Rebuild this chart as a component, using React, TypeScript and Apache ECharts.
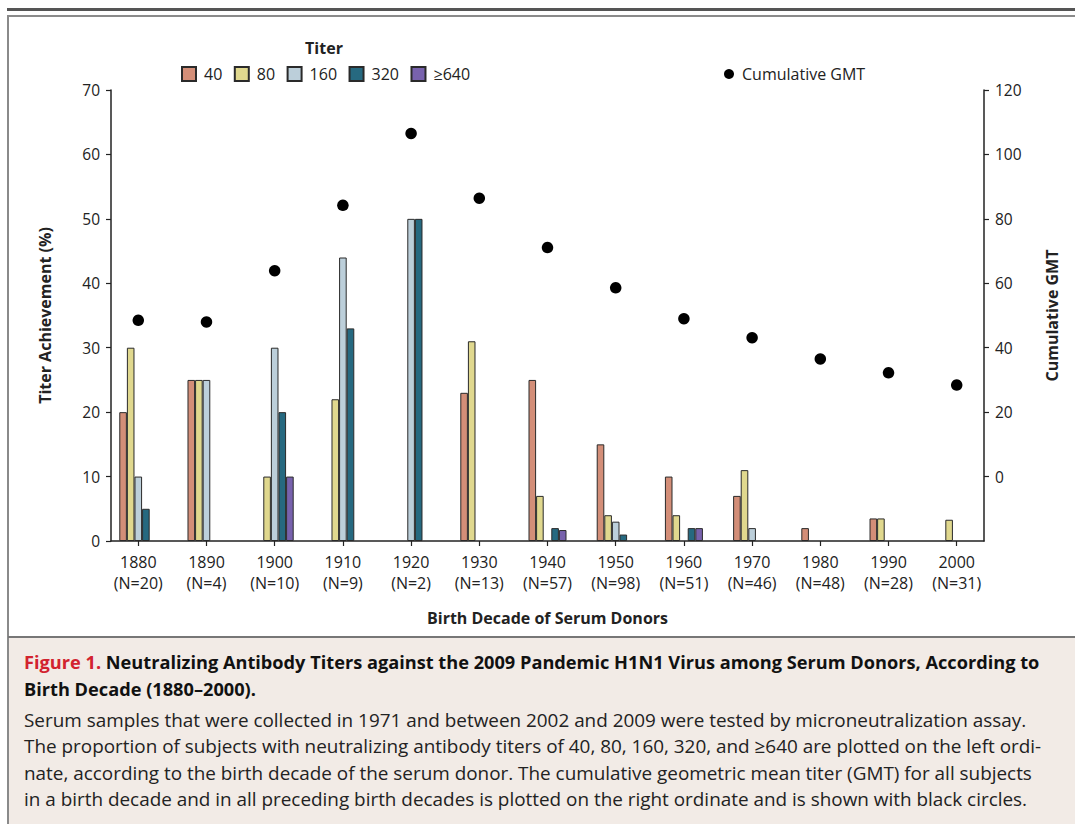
import React, { useEffect, useRef } from "react";
import * as echarts from "echarts";

const years = [1880, 1890, 1900, 1910, 1920, 1930, 1940, 1950, 1960, 1970, 1980, 1990, 2000];
const nLabels = ["N=20", "N=4", "N=10", "N=9", "N=2", "N=13", "N=57", "N=98", "N=51", "N=46", "N=48", "N=28", "N=31"];
const titer40 = [20, 25, null, null, null, 23, 25, 15, 10, 7, 2, 3.5, null];
const titer80 = [30, 25, 10, 22, null, 31, 7, 4, 4, 11, null, 3.5, 3.3];
const titer160 = [10, 25, 30, 44, 50, null, null, 3, null, 2, null, null, null];
const titer320 = [5, null, 20, 33, 50, null, 2, 1, 2, null, null, null, null];
const titer640 = [null, null, 10, null, null, null, 1.7, null, 2, null, null, null, null];
const gmt = [48.5, 48.0, 63.9, 84.2, 106.5, 86.4, 71.1, 58.6, 49.0, 43.1, 36.5, 32.2, 28.4];
const leftTicks = [0, 10, 20, 30, 40, 50, 60, 70];
const rightTicks = [0, 20, 40, 60, 80, 100, 120];

const titerNames = ["40", "80", "160", "320", "≥640"];
const titerSeries = [titer40, titer80, titer160, titer320, titer640];
const titerColors = ["#d38e78", "#e0d88e", "#bccfda", "#266980", "#7862ad"];

const captionTitle1 = "Neutralizing Antibody Titers against the 2009 Pandemic H1N1 Virus among Serum Donors, According to";
const captionTitle2 = "Birth Decade (1880–2000).";
const captionBody = [
  "Serum samples that were collected in 1971 and between 2002 and 2009 were tested by microneutralization assay.",
  "The proportion of subjects with neutralizing antibody titers of 40, 80, 160, 320, and ≥640 are plotted on the left ordi-",
  "nate, according to the birth decade of the serum donor. The cumulative geometric mean titer (GMT) for all subjects",
  "in a birth decade and in all preceding birth decades is plotted on the right ordinate and is shown with black circles.",
];

const FONT = "'Open Sans', 'Noto Sans', sans-serif";
const INK = "#222";

export default function App() {
  const ref = useRef<HTMLDivElement>(null);

  useEffect(() => {
    if (!ref.current) return;
    const chart = echarts.init(ref.current, null, { renderer: "svg" });

    const barSeries = titerNames.map((name, k) => ({
      name,
      type: "bar",
      barWidth: 7.6,
      barGap: "0%",
      itemStyle: { color: titerColors[k], borderColor: "#2a2a2a", borderWidth: 1 },
      data: years
        .map((y, i) => (titerSeries[k][i] == null ? null : [y, titerSeries[k][i]]))
        .filter((d) => d !== null),
    }));

    const option: any = {
      animation: false,
      textStyle: { fontFamily: FONT, color: INK },
      grid: { left: 111, right: 91, top: 90, bottom: 283, outerBoundsMode: "none" },
      legend: [
        {
          data: titerNames,
          left: 181,
          top: 66,
          padding: 0,
          itemWidth: 14,
          itemHeight: 14,
          itemGap: 11.5,
          icon: "rect",
          selectedMode: false,
          textStyle: { fontFamily: FONT, fontSize: 16, color: INK, padding: [0, 0, 0, 3] },
        },
        {
          data: ["Cumulative GMT"],
          left: 724,
          top: 66,
          padding: 0,
          itemWidth: 10,
          itemHeight: 14,
          icon: "circle",
          selectedMode: false,
          textStyle: { fontFamily: FONT, fontSize: 16, color: INK, padding: [0, 0, 0, 3] },
        },
      ],
      xAxis: {
        type: "value",
        min: 1876,
        max: 2004,
        name: "Birth Decade of Serum Donors",
        nameLocation: "middle",
        nameGap: 69,
        nameTextStyle: { fontFamily: FONT, fontSize: 16, fontWeight: "bold", color: INK },
        splitLine: { show: false },
        axisLine: { show: true, lineStyle: { color: INK, width: 1.5 } },
        axisTick: { show: true, length: 5, customValues: years, lineStyle: { color: INK, width: 1.2 } },
        axisLabel: {
          customValues: years,
          margin: 10,
          fontSize: 16,
          lineHeight: 21,
          color: INK,
          fontFamily: FONT,
          formatter: (v: number) => {
            const i = years.indexOf(Math.round(v));
            return i < 0 ? "" : `${years[i]}\n(${nLabels[i]})`;
          },
        },
      },
      yAxis: [
        {
          type: "value",
          min: 0,
          max: 70,
          interval: 10,
          name: "Titer Achievement (%)",
          nameLocation: "middle",
          nameGap: 58,
          nameTextStyle: { fontFamily: FONT, fontSize: 16, fontWeight: "bold", color: INK },
          splitLine: { show: false },
          axisLine: { show: true, lineStyle: { color: INK, width: 1.5 } },
          axisTick: { show: true, length: 5, customValues: leftTicks, lineStyle: { color: INK, width: 1.2 } },
          axisLabel: { customValues: leftTicks, margin: 11, fontSize: 15.5, color: INK, fontFamily: FONT },
        },
        {
          type: "value",
          min: -20,
          max: 120,
          interval: 20,
          position: "right",
          name: "Cumulative GMT",
          nameLocation: "middle",
          nameGap: 60,
          nameTextStyle: { fontFamily: FONT, fontSize: 16, fontWeight: "bold", color: INK },
          splitLine: { show: false },
          axisLine: { show: true, lineStyle: { color: INK, width: 1.5 } },
          axisTick: { show: true, length: 5, customValues: rightTicks, lineStyle: { color: INK, width: 1.2 } },
          axisLabel: { customValues: rightTicks, margin: 11, fontSize: 15.5, color: INK, fontFamily: FONT },
        },
      ],
      series: [
        ...barSeries,
        {
          name: "Cumulative GMT",
          type: "scatter",
          yAxisIndex: 1,
          symbolSize: 11.5,
          z: 5,
          itemStyle: { color: "#000", opacity: 1 },
          data: years.map((y, i) => [y, gmt[i]]),
        },
      ],
      graphic: [
        { type: "rect", shape: { x: 8, y: 637, width: 1067, height: 187 }, style: { fill: "#f2ebe6" }, z: -10 },
        { type: "rect", shape: { x: 7, y: 8, width: 1068, height: 3 }, style: { fill: "#555" } },
        { type: "line", shape: { x1: 7, y1: 16, x2: 1075, y2: 16 }, style: { stroke: "#8a8a8a", lineWidth: 2 } },
        { type: "line", shape: { x1: 8, y1: 15, x2: 8, y2: 824 }, style: { stroke: "#8a8a8a", lineWidth: 2 } },
        { type: "line", shape: { x1: 8, y1: 637, x2: 1075, y2: 637 }, style: { stroke: "#777", lineWidth: 2 } },
        {
          type: "text",
          x: 324,
          y: 48,
          style: { text: "Titer", fontFamily: FONT, fontSize: 16, fontWeight: "bold", fill: INK, align: "center", verticalAlign: "middle" },
        },
        {
          type: "text",
          x: 24,
          y: 662,
          style: {
            text: `{r|Figure 1.} {b|${captionTitle1}}`,
            fontFamily: FONT,
            fontSize: 18.2,
            verticalAlign: "middle",
            rich: {
              r: { fontFamily: FONT, fontSize: 18.2, fontWeight: "bold", fill: "#d2232f", color: "#d2232f" },
              b: { fontFamily: FONT, fontSize: 18.2, fontWeight: "bold", fill: "#111", color: "#111" },
            },
          },
        },
        {
          type: "text",
          x: 24,
          y: 689,
          style: { text: captionTitle2, fontFamily: FONT, fontSize: 18.2, fontWeight: "bold", fill: "#111", verticalAlign: "middle" },
        },
        ...captionBody.map((line, i) => ({
          type: "text",
          x: 24,
          y: 720 + i * 26.3,
          style: { text: line, fontFamily: FONT, fontSize: 18.9, fill: INK, verticalAlign: "middle" },
        })),
      ],
    };

    chart.setOption(option);
    return () => chart.dispose();
  }, []);

  return (
    <div
      ref={ref}
      style={{ position: "absolute", left: 0, top: 0, width: 1075, height: 824, background: "#fff" }}
    />
  );
}
